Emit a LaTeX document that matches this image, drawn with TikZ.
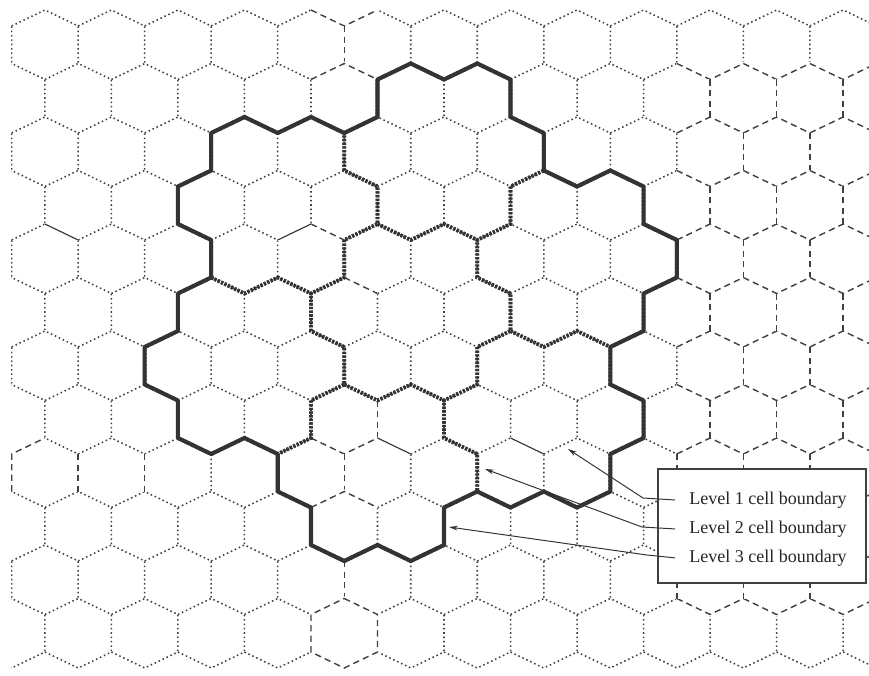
\documentclass[tikz,border=0pt]{standalone}
\usepackage{fontspec}
\setmainfont{Liberation Serif}
\usetikzlibrary{arrows.meta, positioning}
\tikzset{
  cellline/.style={draw=black!75, line width=1.1pt, dash pattern=on 1.1pt off 2pt},
  altline/.style={draw=black!75, line width=1pt, dash pattern=on 4.5pt off 3pt,
    preaction={draw=white, line width=2.6pt, solid}},
  plainline/.style={draw=black!80, line width=0.8pt,
    preaction={draw=white, line width=2.6pt}},
  lvltwo/.style={draw=black!80, line width=2.6pt, dash pattern=on 1.5pt off 1.1pt},
  lvlthree/.style={draw=black!80, line width=2.9pt, line join=round},
  legendbox/.style={rectangle, draw=black!75, fill=white, line width=0.8pt,
    minimum width=5.2cm, minimum height=2.85cm},
  legendtext/.style={font=\fontsize{12.8}{15}\selectfont, text=black!85,
    inner sep=0pt, anchor=west},
  pointer/.style={-{Stealth[length=2.2mm, width=1.2mm]}, draw=black!80, line width=0.7pt},
  hexedges/.pic={\draw[pic actions] (-1,-18.75) -- (0,-34.75) -- (1,-18.75) -- (1,18.75);},
  flower/.pic={\draw[pic actions] (-1,-88.25) -- (0,-72.25) -- (1,-88.25) -- (2,-72.25)
    -- (2,-34.75) -- (3,-18.75) -- (3,18.75) -- (2,34.75) -- (2,72.25) -- (1,88.25)
    -- (0,72.25) -- (-1,88.25) -- (-2,72.25) -- (-2,34.75) -- (-3,18.75) -- (-3,-18.75)
    -- (-2,-34.75) -- (-2,-72.25) -- cycle;}
}
\begin{document}
\begin{tikzpicture}[x=0.025cm, y=-0.025cm]
  \useasboundingbox (0,0) rectangle (869,676);
  \begin{scope}
    \clip (11,4) rectangle (869,672);
    \begin{scope}[shift={(410.75,0)}, x=0.83125cm]
      \foreach \r in {0,...,11} {
        \pgfmathsetmacro\yc{44.75+53.5*\r}
        \foreach \j in {0,...,13} {
          \pgfmathtruncatemacro\u{2*\j-13+mod(\r,2)}
          \pic[cellline] at (\u,\yc) {hexedges};
        }
      }
      \foreach \u in {-12,-10,...,14}
        \draw[cellline] (\u-1,652) -- (\u,668) -- (\u+1,652);

      % right-hand block of dashed cells
      \foreach \k in {1,...,11}
        \draw[altline] (8,{10+53.5*\k+16*(1-mod(8+\k,2))})
          \foreach \u in {9,...,14} { -- (\u,{10+53.5*\k+16*(1-mod(\u+\k,2))}) };
      \foreach \r/\s in {1/9, 2/10, 3/9, 4/10, 5/9, 6/10, 7/9, 8/8, 9/9, 10/8}
        \foreach \j in {0,...,3}
          \draw[altline] ({\s+2*\j},{26+53.5*\r}) -- ({\s+2*\j},{63.5+53.5*\r});

      \draw[altline] (-3,10) -- (-2,26) -- (-1,10);
      \draw[altline] (-2,26) -- (-2,63.5);
      \draw[altline] (-3,79.5) -- (-2,63.5) -- (-1,79.5);
      \draw[altline] (-12,491.5) -- (-12,454) -- (-11,438);
      \draw[altline] (-10,454) -- (-10,491.5);
      \draw[altline] (-8,454) -- (-8,491.5);
      \draw[altline] (-3,438) -- (-2,454) -- (-1,438);
      \draw[altline] (-2,454) -- (-2,491.5);
      \draw[altline] (-3,507.5) -- (-2,491.5) -- (-1,507.5);
      \draw[altline] (-2,561) -- (-2,598.5);
      \draw[altline] (-2,598.5) -- (-1,614.5) -- (-1,652) -- (-2,668) -- (-3,652)
        -- (-3,614.5) -- cycle;
      \draw[altline] (-3,224) -- (-2,240);
      \draw[altline] (-2,277.5) -- (-1,293.5);
      \draw[altline] (-1,400.5) -- (-1,438);
      \draw[plainline] (-11,224) -- (-10,240);
      \draw[plainline] (-4,240) -- (-3,224);
      \draw[plainline] (-1,438) -- (0,454);
      \draw[plainline] (3,438) -- (4,454);

      \foreach \u/\yc in {0/312.25, 5/258.75, 1/151.75, -4/205.25, -5/365.75, -1/472.75, 4/419.25}
        \pic[lvltwo] at (\u,\yc) {flower};

      \draw[lvlthree] (0,63.5) -- (1,79.5) -- (2,63.5) -- (3,79.5) -- (3,117) -- (4,133)
        -- (4,170.5) -- (5,186.5) -- (6,170.5) -- (7,186.5) -- (7,224) -- (8,240)
        -- (8,277.5) -- (7,293.5) -- (7,331) -- (6,347) -- (6,384.5) -- (7,400.5)
        -- (7,438) -- (6,454) -- (6,491.5) -- (5,507.5) -- (4,491.5) -- (3,507.5)
        -- (2,491.5) -- (1,507.5) -- (1,545) -- (0,561) -- (-1,545) -- (-2,561)
        -- (-3,545) -- (-3,507.5) -- (-4,491.5) -- (-4,454) -- (-5,438) -- (-6,454)
        -- (-7,438) -- (-7,400.5) -- (-8,384.5) -- (-8,347) -- (-7,331) -- (-7,293.5)
        -- (-6,277.5) -- (-6,240) -- (-7,224) -- (-7,186.5) -- (-6,170.5) -- (-6,133)
        -- (-5,117) -- (-4,133) -- (-3,117) -- (-2,133) -- (-1,117) -- (-1,79.5) -- cycle;
    \end{scope}
  \end{scope}

  \node[legendbox] (legend) at (762,526) {};
  \node[legendtext] (lvl1) at (689,500) {Level 1 cell boundary};
  \node[legendtext, below=0.3cm of lvl1] (lvl2) {Level 2 cell boundary};
  \node[legendtext, below=0.3cm of lvl2] (lvl3) {Level 3 cell boundary};

  \coordinate (b1) at (643,498);
  \coordinate (t1) at (568,449);
  \coordinate (b2) at (642,527);
  \coordinate (t2) at (485,469);
  \coordinate (b3) at (647,555);
  \coordinate (t3) at (449,527);
  \draw[pointer] ([xshift=-0.35cm]lvl1.west) -- (b1) -- (t1);
  \draw[pointer] ([xshift=-0.35cm]lvl2.west) -- (b2) -- (t2);
  \draw[pointer] ([xshift=-0.35cm]lvl3.west) -- (b3) -- (t3);
\end{tikzpicture}
\end{document}
